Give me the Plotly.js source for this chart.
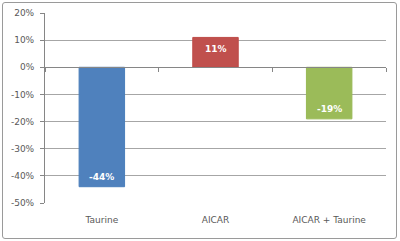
<!DOCTYPE html>
<html>
<head>
<meta charset="utf-8">
<script src="https://cdn.plot.ly/plotly-3.0.1.min.js"></script>
<style>
html,body{margin:0;padding:0;background:#fff;}
#wrap{position:relative;width:400px;height:241px;}
#chart{position:absolute;left:0;top:0;width:400px;height:241px;}
#frame{position:absolute;left:2px;top:2px;width:393px;height:235px;border:1px solid #9a9a9a;border-radius:3px;pointer-events:none;}
</style>
</head>
<body>
<div id="wrap"><div id="chart"></div><div id="frame"></div></div>
<script>
const categories = ['Taurine', 'AICAR', 'AICAR + Taurine'];
const values = [-44, 11, -19];
const barColors = ['#4F81BD', '#C0504D', '#9BBB59'];
const edgeColors = ['#4A7EBB', '#BE4B48', '#98B954'];
const yTicks = [-50, -40, -30, -20, -10, 0, 10, 20];

const yMin = -50, yMax = 20;

const traces = [
  {
    type: 'bar',
    x: categories,
    y: values,
    marker: {color: barColors, line: {color: edgeColors, width: 1}},
    hoverinfo: 'skip',
    showlegend: false
  },
  {
    type: 'scatter',
    mode: 'markers',
    x: categories,
    y: categories.map(() => null),
    xaxis: 'x2',
    yaxis: 'y',
    hoverinfo: 'skip',
    showlegend: false
  }
];

const annotations = categories.map((c, i) => ({
  x: c,
  y: values[i],
  xref: 'x',
  yref: 'y',
  text: '<b>' + values[i] + '%</b>',
  showarrow: false,
  yshift: values[i] < 0 ? 10 : -12,
  font: {family: 'DejaVu Sans', size: 9, color: '#ffffff'}
}));

const layout = {
  width: 400,
  height: 241,
  margin: {l: 45, r: 14, t: 13, b: 38},
  paper_bgcolor: 'rgba(0,0,0,0)',
  plot_bgcolor: 'rgba(0,0,0,0)',
  bargap: 0.6,
  font: {family: 'DejaVu Sans', size: 9, color: '#595959'},
  xaxis: {
    type: 'category',
    showline: false,
    showgrid: false,
    zeroline: false,
    ticks: '',
    ticklabelstandoff: 10,
    tickfont: {family: 'DejaVu Sans', size: 9, color: '#595959'}
  },
  xaxis2: {
    type: 'category',
    overlaying: 'x',
    matches: 'x',
    anchor: 'free',
    position: (0 - yMin) / (yMax - yMin),
    side: 'bottom',
    showline: true,
    linecolor: '#868686',
    linewidth: 1,
    ticks: 'outside',
    ticklen: 4,
    tickcolor: '#868686',
    tickson: 'boundaries',
    showticklabels: false,
    showgrid: false,
    zeroline: false
  },
  yaxis: {
    range: [yMin, yMax],
    tickvals: yTicks,
    ticktext: yTicks.map(v => v + '%'),
    showline: true,
    linecolor: '#868686',
    linewidth: 1,
    ticks: 'outside',
    ticklen: 4,
    tickcolor: '#868686',
    ticklabelstandoff: 4,
    showgrid: true,
    gridcolor: '#a6a6a6',
    gridwidth: 1,
    zeroline: false,
    tickfont: {family: 'DejaVu Sans', size: 9, color: '#595959'}
  },
  annotations: annotations
};

Plotly.newPlot('chart', traces, layout, {displayModeBar: false, staticPlot: true});
</script>
</body>
</html>
